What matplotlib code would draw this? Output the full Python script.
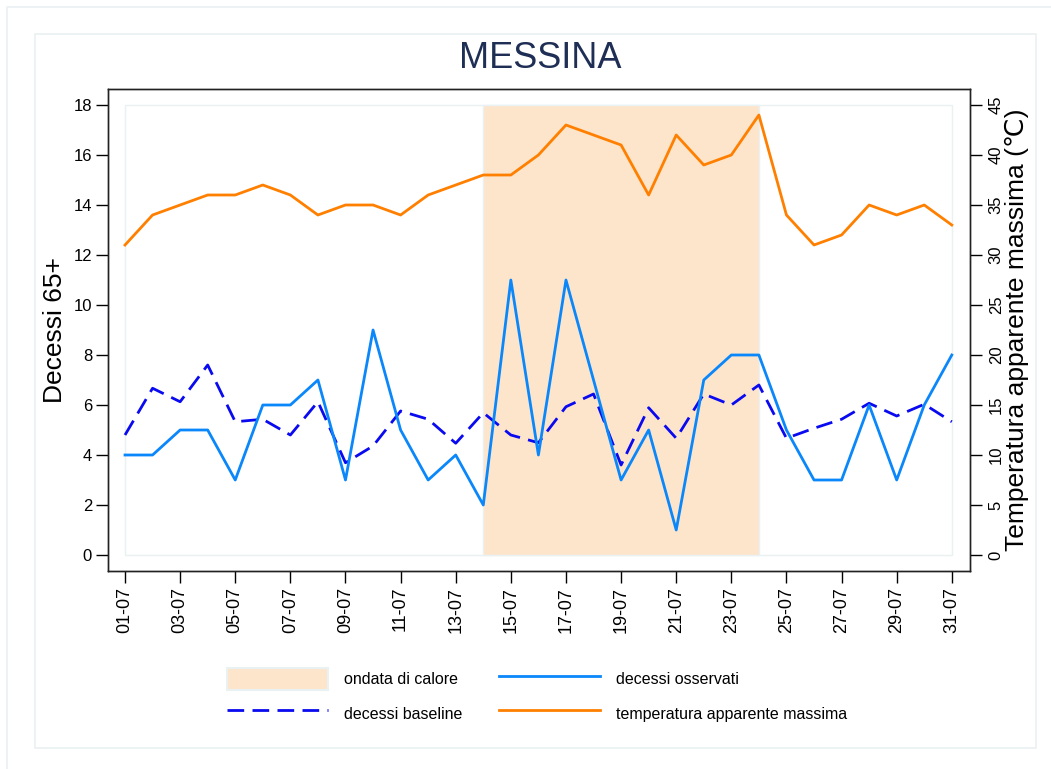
import numpy as np
import matplotlib
matplotlib.use('Agg')
import matplotlib.pyplot as plt
from matplotlib.patches import Rectangle, Patch
from matplotlib.lines import Line2D

plt.rcParams['font.family'] = ['Liberation Sans', 'DejaVu Sans']

# Data (July, Messina)
days = list(range(1, 32))
tick_days = list(range(1, 32, 2))
tick_labels = ['%02d-07' % d for d in tick_days]

deaths_observed = [4, 4, 5, 5, 3, 6, 6, 7, 3, 9, 5, 3, 4, 2, 11, 4,
                   11, 7, 3, 5, 1, 7, 8, 8, 5, 3, 3, 6, 3, 6, 8]
deaths_baseline = [4.8, 6.67, 6.13, 7.6, 5.33, 5.43, 4.8, 6.13, 3.69, 4.36,
                   5.76, 5.43, 4.47, 5.69, 4.8, 4.49, 5.93, 6.44, 3.6, 5.89,
                   4.67, 6.44, 6.0, 6.8, 4.67, 5.07, 5.43, 6.07, 5.56, 6.03, 5.33]
temp_max = [31, 34, 35, 36, 36, 37, 36, 34, 35, 35, 34, 36, 37, 38, 38, 40,
            43, 42, 41, 36, 42, 39, 40, 44, 34, 31, 32, 35, 34, 35, 33]
heatwave = (14, 24)

col_obs = '#0A87FA'
col_base = '#0A0AF0'
col_temp = '#FF8000'
col_heat = '#FDE5CC'
col_frame = '#EAF1F2'
dash = (6, 3)

fig = plt.figure(figsize=(10.51, 7.69), dpi=100)
W, H = 1051, 769

# light frames around the chart
fig.patches.append(Rectangle((7 / W, -0.05), 1.1, 1 - 7 / H + 0.05, transform=fig.transFigure,
                             fill=False, edgecolor=col_frame, lw=1.2))
fig.patches.append(Rectangle((35 / W, 1 - 748 / H), (1036 - 35) / W, (748 - 34) / H,
                             transform=fig.transFigure, fill=False, edgecolor=col_frame, lw=1.2))

ax = fig.add_axes([108 / W, 1 - 571 / H, (970 - 108) / W, (571 - 89) / H])
ax2 = ax.twinx()

# plot region frame
ax.add_patch(Rectangle((1, 0), 30, 18, fill=False, edgecolor=col_frame, lw=1, zorder=0))
ax.fill_between(heatwave, 0, 18, color=col_heat, edgecolor=col_frame, lw=1, zorder=1)

ax.plot(days, deaths_baseline, color=col_base, lw=2, dashes=dash, zorder=3)
ax.plot(days, deaths_observed, color=col_obs, lw=2, zorder=4)
ax2.plot(days, temp_max, color=col_temp, lw=2)

ax.set_xlim(0.383, 31.66)
ax.set_ylim(-0.64, 18.64)
ax2.set_ylim(-1.6, 46.6)

ax.set_xticks(tick_days)
ax.set_xticklabels(tick_labels, rotation=90)
ax.set_yticks(range(0, 19, 2))
ax2.set_yticks(range(0, 46, 5))

for a in (ax, ax2):
    a.tick_params(length=8.5, width=1, labelsize=12, pad=3, color='black')
    for s in a.spines.values():
        s.set_linewidth(1)
        s.set_color('#222222')
ax.tick_params(axis='x', labelsize=13)
ax2.tick_params(pad=5)
for lab in ax2.get_yticklabels():
    lab.set_rotation(90)
    lab.set_va('center')

ax.set_ylabel('Decessi 65+', fontsize=19)
ax.yaxis.set_label_coords(-0.048, 0.5)
ax2.set_ylabel('Temperatura apparente massima (℃)', fontsize=19)
ax2.yaxis.set_label_coords(1.0406, 0.5)

fig.text(540 / W, 1 - 68.3 / H, 'MESSINA', fontsize=26, color='#1F2E54',
         ha='center', va='baseline')

handles = [Patch(facecolor=col_heat, edgecolor=col_frame, lw=1.5),
           Line2D([], [], color=col_base, lw=2, dashes=dash),
           Line2D([], [], color=col_obs, lw=2),
           Line2D([], [], color=col_temp, lw=2)]
labels = ['ondata di calore', 'decessi baseline', 'decessi osservati',
          'temperatura apparente massima']
fig.legend(handles, labels, ncol=2, loc='center', bbox_to_anchor=(537 / W, 1 - 696 / H),
           frameon=False, fontsize=11.5, handlelength=6.3, handleheight=1.75,
           handletextpad=1, columnspacing=2.3, labelspacing=0.8)

fig.savefig('out.png', dpi=100)
